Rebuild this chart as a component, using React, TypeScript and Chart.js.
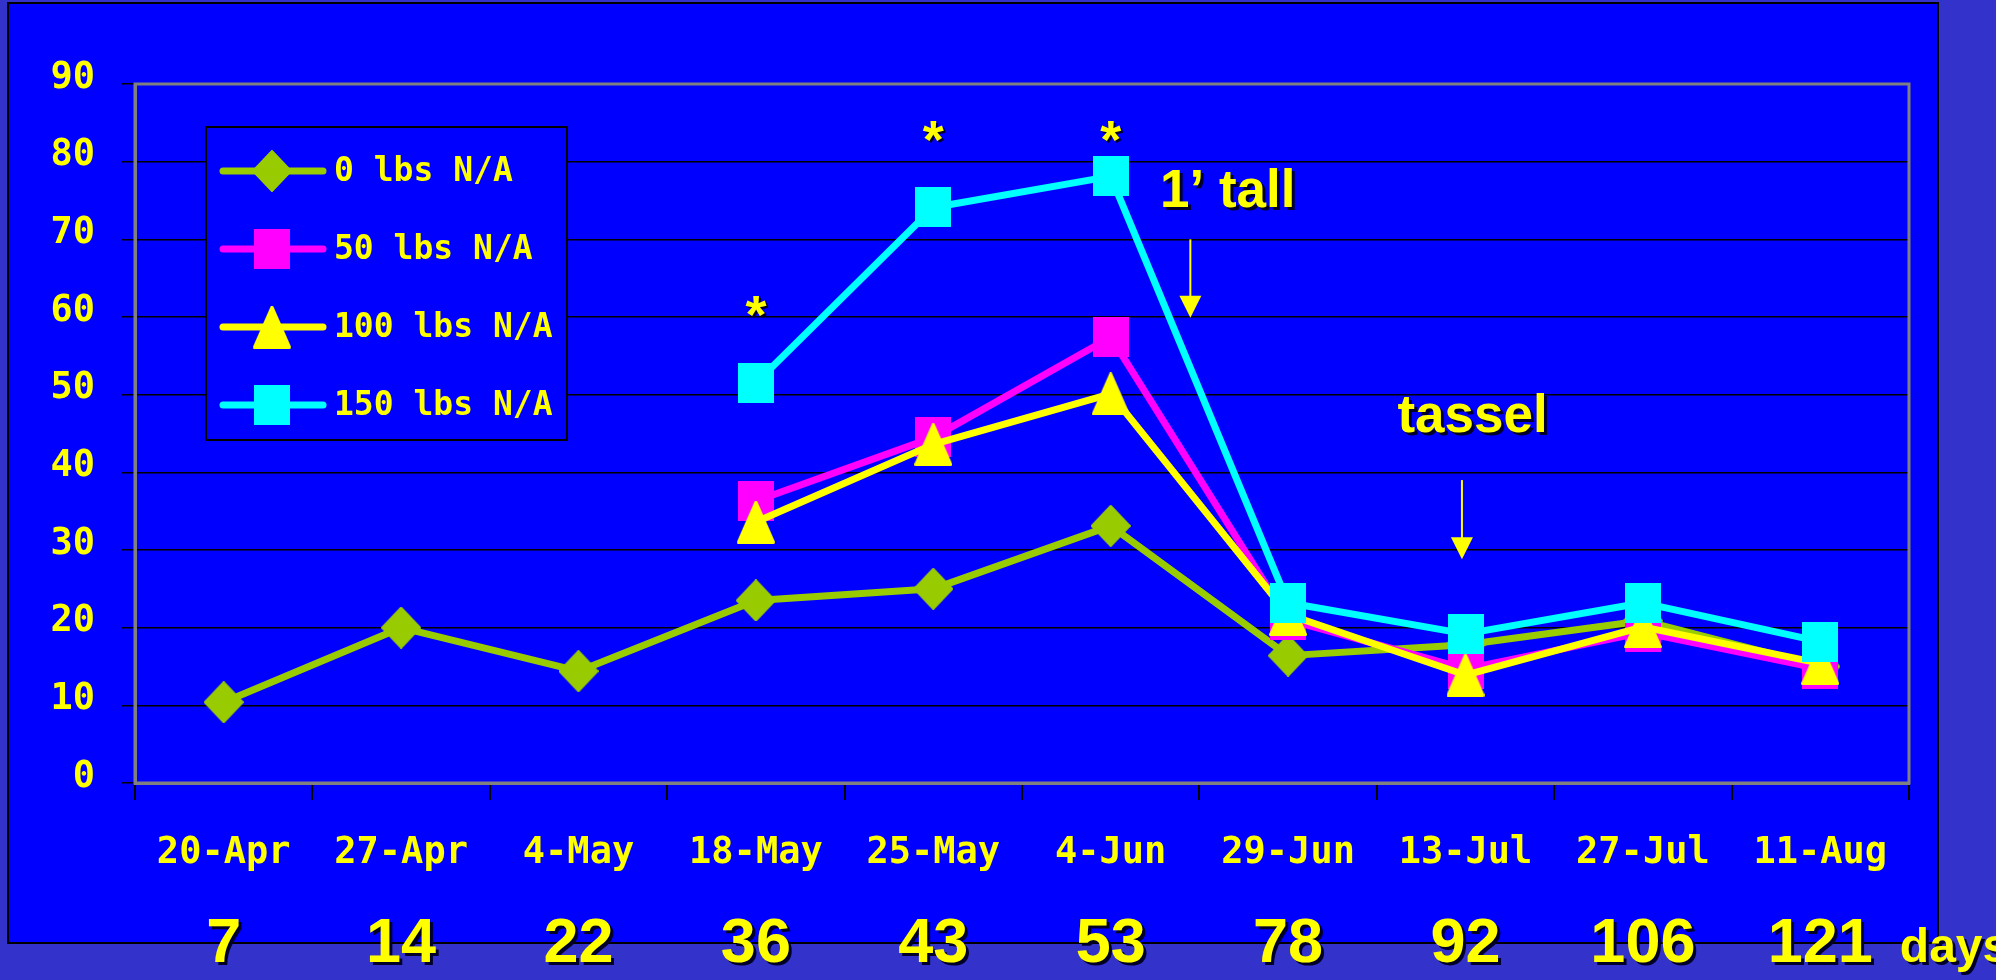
import React, { useEffect, useRef } from 'react';
import { Chart, registerables } from 'chart.js';

Chart.register(...registerables);

// ---- data ----
const categories = ['20-Apr', '27-Apr', '4-May', '18-May', '25-May', '4-Jun', '29-Jun', '13-Jul', '27-Jul', '11-Aug'];
const dayLabels = ['7', '14', '22', '36', '43', '53', '78', '92', '106', '121'];
const seriesLabels = ['0 lbs N/A', '50 lbs N/A', '100 lbs N/A', '150 lbs N/A'];
const lbs0 = [10.4, 20.0, 14.4, 23.5, 25.0, 33.1, 16.4, 17.8, 20.9, 15.0];
const lbs50 = [null, null, null, 36.3, 44.5, 57.4, 21.0, 14.7, 19.4, 14.7];
const lbs100 = [null, null, null, 33.6, 43.6, 50.1, 21.7, 13.9, 20.1, 15.4];
const lbs150 = [null, null, null, 51.5, 74.1, 78.1, 23.2, 19.2, 23.2, 18.2];
const yMin = 0;
const yMax = 90;
const yStep = 10;

const colors = ['#99CC00', '#FF00FF', '#FFFF00', '#00FFFF'];
const markerKinds = ['diamond', 'square', 'triangle', 'square'];

const MONO = "'DejaVu Sans Mono', monospace";
const SANS = "'Liberation Sans', Arial, sans-serif";

function makeMarker(kind: string, color: string): HTMLCanvasElement {
  const c = document.createElement('canvas');
  let w = 36, h = 40;
  if (kind === 'diamond') { w = 40; h = 42; }
  if (kind === 'triangle') { w = 38; h = 43; }
  c.width = w; c.height = h;
  const ctx = c.getContext('2d')!;
  ctx.fillStyle = color;
  ctx.strokeStyle = color;
  ctx.lineJoin = 'round';
  ctx.beginPath();
  if (kind === 'diamond') {
    ctx.moveTo(w / 2, 1); ctx.lineTo(w - 1, h / 2); ctx.lineTo(w / 2, h - 1); ctx.lineTo(1, h / 2);
    ctx.closePath();
    ctx.lineWidth = 2; ctx.fill(); ctx.stroke();
  } else if (kind === 'triangle') {
    ctx.moveTo(w / 2, 1.5); ctx.lineTo(w - 1.5, h - 1.5); ctx.lineTo(1.5, h - 1.5);
    ctx.closePath();
    ctx.lineWidth = 3; ctx.fill(); ctx.stroke();
  } else {
    ctx.rect(0, 0, w, h);
    ctx.fill();
  }
  return c;
}

export default function App() {
  const ref = useRef<HTMLCanvasElement>(null);

  useEffect(() => {
    document.body.style.margin = '0';
    const canvas = ref.current;
    if (!canvas) return;
    const markers = markerKinds.map((k, i) => makeMarker(k, colors[i]));
    const series = [lbs0, lbs50, lbs100, lbs150];

    const framePlugin = {
      id: 'frame',
      beforeDatasetsDraw(chart: any) {
        const { ctx, chartArea: a } = chart;
        ctx.save();
        ctx.strokeStyle = '#808080';
        ctx.lineWidth = 3;
        ctx.strokeRect(a.left, a.top, a.right - a.left, a.bottom - a.top);
        ctx.restore();
      },
    };

    const drawCenteredText = (ctx: CanvasRenderingContext2D, text: string, x: number, y: number, shadow: number) => {
      const m = ctx.measureText(text);
      const by = y + (m.actualBoundingBoxAscent - m.actualBoundingBoxDescent) / 2;
      ctx.textAlign = 'center';
      ctx.textBaseline = 'alphabetic';
      ctx.shadowColor = 'rgba(0,0,40,1)';
      ctx.shadowOffsetX = shadow;
      ctx.shadowOffsetY = shadow;
      ctx.shadowBlur = 0;
      ctx.fillText(text, x, by);
      ctx.shadowColor = 'rgba(0,0,0,0)';
      ctx.shadowOffsetX = 0;
      ctx.shadowOffsetY = 0;
    };

    const overlayPlugin = {
      id: 'overlay',
      afterDraw(chart: any) {
        const { ctx, chartArea: a } = chart;
        const xs = chart.scales.x;
        const ys = chart.scales.y;
        ctx.save();

        // legend box
        const lx = a.left + 71;
        const ly = a.top + 43;
        const lw = 361;
        const lh = 313;
        ctx.fillStyle = '#0000FF';
        ctx.fillRect(lx, ly, lw, lh);
        ctx.strokeStyle = '#000';
        ctx.lineWidth = 2;
        ctx.strokeRect(lx, ly, lw, lh);
        seriesLabels.forEach((lab, i) => {
          const ry = ly + 44 + i * 78;
          ctx.strokeStyle = colors[i];
          ctx.lineWidth = 7;
          ctx.lineCap = 'round';
          ctx.beginPath();
          ctx.moveTo(lx + 17, ry);
          ctx.lineTo(lx + 117, ry);
          ctx.stroke();
          const mk = markers[i];
          ctx.drawImage(mk, lx + 66 - mk.width / 2, ry - mk.height / 2);
          ctx.fillStyle = '#FFFF00';
          ctx.font = `bold 33px ${MONO}`;
          ctx.textAlign = 'left';
          ctx.textBaseline = 'middle';
          ctx.fillText(lab, lx + 128, ry + 1);
        });

        // annotations
        ctx.fillStyle = '#FFFF00';
        ctx.font = `bold 54px ${SANS}`;
        [[3, 59.4], [4, 83.9], [5, 83.9]].forEach(([xi, yv]) => {
          drawCenteredText(ctx, '*', xs.getPixelForValue(xi), ys.getPixelForValue(yv), 2);
        });
        ctx.font = `bold 53px ${SANS}`;
        drawCenteredText(ctx, '1\u2019 tall', xs.getPixelForValue(5.66), ys.getPixelForValue(76.6), 3);
        drawCenteredText(ctx, 'tassel', xs.getPixelForValue(7.04), ys.getPixelForValue(47.6), 3);

        // arrows
        const arrow = (xi: number, y1: number, y2: number) => {
          const x = xs.getPixelForValue(xi);
          const p1 = ys.getPixelForValue(y1);
          const p2 = ys.getPixelForValue(y2);
          ctx.strokeStyle = '#FFFF00';
          ctx.fillStyle = '#FFFF00';
          ctx.lineWidth = 2;
          ctx.lineCap = 'butt';
          ctx.beginPath();
          ctx.moveTo(x, p1);
          ctx.lineTo(x, p2 - 18);
          ctx.stroke();
          ctx.beginPath();
          ctx.moveTo(x - 11, p2 - 22);
          ctx.lineTo(x + 11, p2 - 22);
          ctx.lineTo(x, p2);
          ctx.closePath();
          ctx.fill();
        };
        arrow(5.449, 70.0, 59.9);
        arrow(6.98, 39.0, 28.8);

        // day numbers
        ctx.fillStyle = '#FFFF00';
        ctx.font = `bold 63px ${SANS}`;
        const baseY = a.bottom + 179;
        dayLabels.forEach((d, i) => {
          const x = xs.getPixelForValue(i);
          ctx.textAlign = 'center';
          ctx.textBaseline = 'alphabetic';
          ctx.shadowColor = 'rgba(0,0,40,1)';
          ctx.shadowOffsetX = 3;
          ctx.shadowOffsetY = 3;
          ctx.fillText(d, x, baseY);
        });
        const lastX = xs.getPixelForValue(dayLabels.length - 1);
        const lastW = ctx.measureText(dayLabels[dayLabels.length - 1]).width;
        ctx.font = `bold 48px ${SANS}`;
        ctx.textAlign = 'left';
        ctx.fillText('days', lastX + lastW / 2 + 27, baseY);
        ctx.restore();
      },
    };

    const chart = new Chart(canvas, {
      type: 'line',
      data: {
        labels: categories,
        datasets: series.map((s, i) => ({
          label: seriesLabels[i],
          data: s,
          borderColor: colors[i],
          backgroundColor: colors[i],
          borderWidth: 7,
          borderJoinStyle: 'round',
          pointStyle: markers[i],
          pointRadius: 20,
          pointHoverRadius: 20,
          order: 4 - i,
          tension: 0,
          fill: false,
        })),
      },
      options: {
        animation: false,
        responsive: false,
        devicePixelRatio: 1,
        events: [],
        layout: { padding: { left: 0, top: 84, right: 87, bottom: 0 } },
        plugins: {
          legend: { display: false },
          tooltip: { enabled: false },
        },
        scales: {
          x: {
            type: 'category',
            offset: true,
            grid: { offset: true, drawOnChartArea: false, drawTicks: true, tickLength: 17, color: '#000', lineWidth: 2 },
            border: { display: true, color: '#808080', width: 3 },
            ticks: {
              color: '#FFFF00',
              font: { family: MONO, size: 37, weight: 'bold' },
              padding: 31,
              maxRotation: 0,
              autoSkip: false,
            },
            afterFit: (s: any) => { s.height = 197; },
          },
          y: {
            min: yMin,
            max: yMax,
            ticks: {
              stepSize: yStep,
              color: '#FFFF00',
              font: { family: MONO, size: 37, weight: 'bold' },
              padding: 27,
              labelOffset: -6,
            },
            grid: { color: '#000', lineWidth: 1.5, tickLength: 13, drawTicks: true },
            border: { display: true, color: '#808080', width: 3 },
            afterFit: (s: any) => { s.width = 135; },
          },
        },
      } as any,
      plugins: [framePlugin, overlayPlugin],
    });

    return () => chart.destroy();
  }, []);

  return (
    <div style={{ position: 'relative', width: 1996, height: 980, background: '#3333CC', overflow: 'hidden' }}>
      <div
        style={{
          position: 'absolute',
          left: 7,
          top: 2,
          width: 1932,
          height: 942,
          background: '#0000FF',
          border: '2px solid #000',
          boxSizing: 'border-box',
        }}
      />
      <canvas
        ref={ref}
        width={1996}
        height={980}
        style={{ position: 'absolute', left: 0, top: 0, width: 1996, height: 980 }}
      />
    </div>
  );
}
